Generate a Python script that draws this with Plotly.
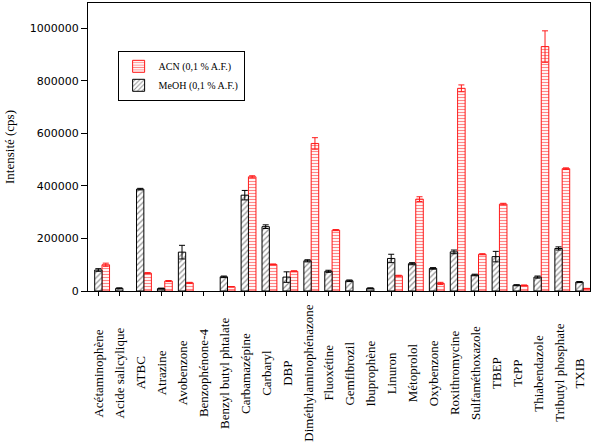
import plotly.graph_objects as go

categories = ["Acétaminophène", "Acide salicylique", "ATBC", "Atrazine", "Avobenzone",
              "Benzophénone-4", "Benzyl butyl phtalate", "Carbamazépine", "Carbaryl", "DBP",
              "Diméthylaminophénazone", "Fluoxétine", "Gemfibrozil", "Ibuprophène", "Linuron",
              "Métoprolol", "Oxybenzone", "Roxithromycine", "Sulfaméthoxazole", "TBEP",
              "TcPP", "Thiabendazole", "Tributyl phosphate", "TXIB"]

meoh = [80000, 10000, 388000, 9000, 148000, None, 54000, 365000, 245000, 53000,
        115000, 75000, 39000, 10000, 124000, 104000, 86000, 149000, 61000, 131000,
        22000, 53000, 162000, 34000]
meoh_err = [5000, 2000, 3000, 2000, 26000, 0, 3000, 18000, 7000, 20000,
            4000, 4000, 3000, 2000, 16000, 4000, 3000, 7000, 3000, 20000,
            2000, 4000, 6000, 2000]

acn = [100000, None, 68000, 38000, 31000, None, 16000, 435000, 101000, 75000,
       562000, 232000, None, None, 58000, 350000, 29000, 772000, 140000, 331000,
       21000, 931000, 466000, 9000]
acn_err = [6000, 0, 2000, 2000, 2000, 0, 1000, 4000, 2000, 2000,
           22000, 2000, 0, 0, 2000, 9000, 4000, 13000, 2000, 3000,
           2000, 60000, 3000, 1000]

yticks = [0, 200000, 400000, 600000, 800000, 1000000]

RED = "#ff1a1a"
serif = "Liberation Serif"

fig = go.Figure()
fig.add_trace(go.Bar(
    x=categories, y=acn, name="ACN (0,1 % A.F.)",
    width=0.36, offset=0.17,
    marker=dict(color="white", line=dict(color=RED, width=1),
                pattern=dict(shape="-", fgcolor=RED, bgcolor="#fff4f4", size=3, solidity=0.35)),
    error_y=dict(type="data", array=acn_err, color=RED, thickness=1, width=3),
))
fig.add_trace(go.Bar(
    x=categories, y=meoh, name="MeOH (0,1 % A.F.)",
    width=0.35, offset=-0.18,
    marker=dict(color="white", line=dict(color="black", width=1),
                pattern=dict(shape="/", fgcolor="#222222", bgcolor="white", size=4, solidity=0.3)),
    error_y=dict(type="data", array=meoh_err, color="black", thickness=1, width=3),
))

for c in categories:
    fig.add_annotation(x=c, xref="x", y=-0.285, yref="paper", text=c,
                       textangle=-90, showarrow=False, xanchor="center", yanchor="middle",
                       font=dict(family=serif, size=13, color="black"))

fig.update_layout(
    width=597, height=445,
    margin=dict(l=88, r=7, t=3, b=154),
    plot_bgcolor="white", paper_bgcolor="white",
    barmode="overlay",
    showlegend=True,
    legend=dict(x=0.059, y=0.834, xanchor="left", yanchor="top",
                bordercolor="black", borderwidth=1, bgcolor="white",
                font=dict(family=serif, size=10, color="black"),
                tracegroupgap=0, itemwidth=30),
    xaxis=dict(range=[-0.5, 23.5], showticklabels=False, ticks="outside", ticklen=4,
               tickcolor="black", showline=True, linecolor="black", linewidth=1,
               mirror=True, showgrid=False),
    yaxis=dict(range=[0, 1097000], tickvals=yticks, tickformat="d", ticks="outside",
               ticklen=6, tickcolor="black", showline=True, linecolor="black", linewidth=1,
               mirror=True, showgrid=False, zeroline=False,
               tickfont=dict(family="DejaVu Sans", size=11, color="black"),
               title=dict(text="Intensité (cps)", font=dict(family=serif, size=13, color="black"),
                          standoff=12)),
)

fig.write_html("out.html")
